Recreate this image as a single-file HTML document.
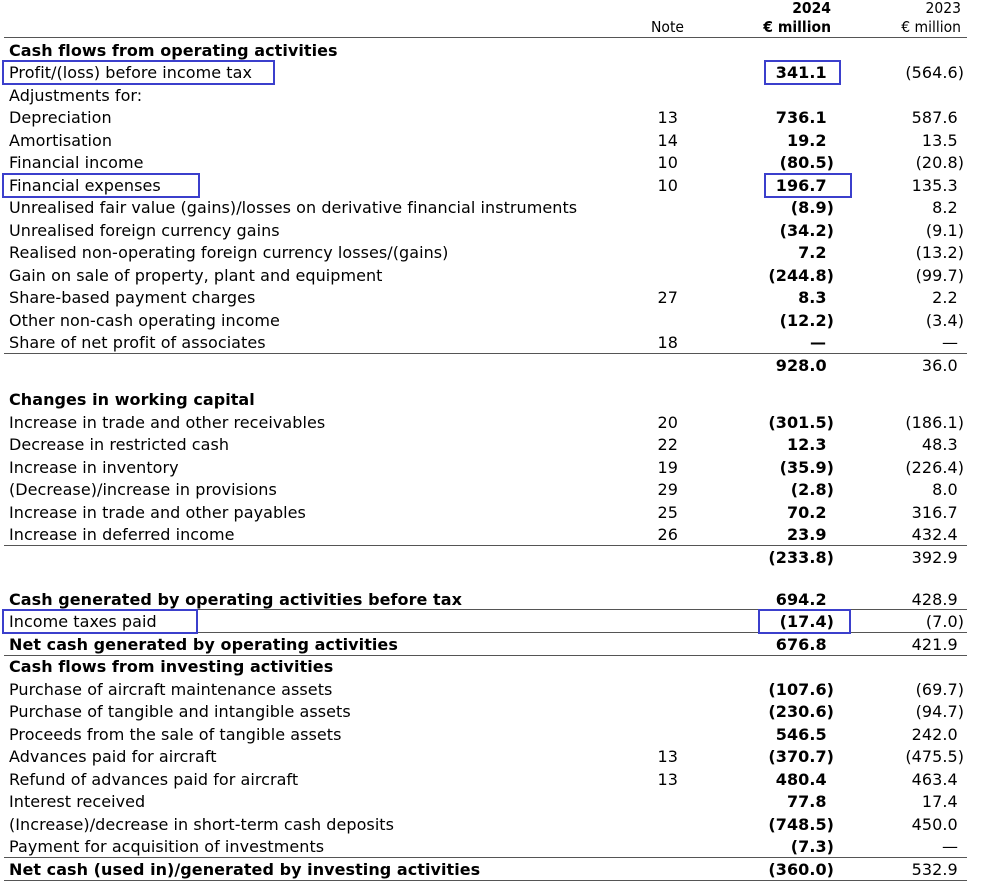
<!DOCTYPE html>
<html><head><meta charset="utf-8"><style>
body{margin:0;width:990px;height:881px;background:#fff;position:relative;overflow:hidden;font-family:"DejaVu Sans",Verdana,sans-serif;font-size:16px;letter-spacing:0.05px;color:#000}
.r{position:absolute;left:0;width:990px;height:22px;line-height:24px}
.l{position:absolute;left:9px;white-space:nowrap}
.n{position:absolute;right:312px}
.a{position:absolute;right:156px;font-weight:bold}
.b{position:absolute;right:26px}
.h{visibility:hidden}
.bd{font-weight:bold}
.line{position:absolute;left:4px;width:963px;height:0;border-top:1.5px solid #555}
.box{position:absolute;border:2px solid #3b3fcc;box-sizing:border-box}
.hd{position:absolute;font-family:"DejaVu Sans Condensed","DejaVu Sans",sans-serif;font-size:15.5px;letter-spacing:0;line-height:18px}
</style></head><body>
<div class="hd" style="right:159px;top:-1px;font-weight:bold">2024</div>
<div class="hd" style="right:29px;top:-1px">2023</div>
<div class="hd" style="right:306px;top:18px">Note</div>
<div class="hd" style="right:159px;top:18px;font-weight:bold">€ million</div>
<div class="hd" style="right:29px;top:18px">€ million</div>
<div class="line" style="top:37px"></div>

<div class="r" style="top:39px"><span class="l bd">Cash flows from operating activities</span></div>
<div class="r" style="top:61px"><span class="l">Profit/(loss) before income tax</span><span class="a">341.1<span class="h">)</span></span><span class="b">(564.6)</span></div>
<div class="r" style="top:84px"><span class="l">Adjustments for:</span></div>
<div class="r" style="top:106px"><span class="l">Depreciation</span><span class="n">13</span><span class="a">736.1<span class="h">)</span></span><span class="b">587.6<span class="h">)</span></span></div>
<div class="r" style="top:129px"><span class="l">Amortisation</span><span class="n">14</span><span class="a">19.2<span class="h">)</span></span><span class="b">13.5<span class="h">)</span></span></div>
<div class="r" style="top:151px"><span class="l">Financial income</span><span class="n">10</span><span class="a">(80.5)</span><span class="b">(20.8)</span></div>
<div class="r" style="top:174px"><span class="l">Financial expenses</span><span class="n">10</span><span class="a">196.7<span class="h">)</span></span><span class="b">135.3<span class="h">)</span></span></div>
<div class="r" style="top:196px"><span class="l">Unrealised fair value (gains)/losses on derivative financial instruments</span><span class="a">(8.9)</span><span class="b">8.2<span class="h">)</span></span></div>
<div class="r" style="top:219px"><span class="l">Unrealised foreign currency gains</span><span class="a">(34.2)</span><span class="b">(9.1)</span></div>
<div class="r" style="top:241px"><span class="l">Realised non-operating foreign currency losses/(gains)</span><span class="a">7.2<span class="h">)</span></span><span class="b">(13.2)</span></div>
<div class="r" style="top:264px"><span class="l">Gain on sale of property, plant and equipment</span><span class="a">(244.8)</span><span class="b">(99.7)</span></div>
<div class="r" style="top:286px"><span class="l">Share-based payment charges</span><span class="n">27</span><span class="a">8.3<span class="h">)</span></span><span class="b">2.2<span class="h">)</span></span></div>
<div class="r" style="top:309px"><span class="l">Other non-cash operating income</span><span class="a">(12.2)</span><span class="b">(3.4)</span></div>
<div class="r" style="top:331px"><span class="l">Share of net profit of associates</span><span class="n">18</span><span class="a" style="right:164px">—</span><span class="b" style="right:32px">—</span></div>
<div class="line" style="top:353px"></div>
<div class="r" style="top:354px"><span class="a">928.0<span class="h">)</span></span><span class="b">36.0<span class="h">)</span></span></div>

<div class="r" style="top:388px"><span class="l bd">Changes in working capital</span></div>
<div class="r" style="top:411px"><span class="l">Increase in trade and other receivables</span><span class="n">20</span><span class="a">(301.5)</span><span class="b">(186.1)</span></div>
<div class="r" style="top:433px"><span class="l">Decrease in restricted cash</span><span class="n">22</span><span class="a">12.3<span class="h">)</span></span><span class="b">48.3<span class="h">)</span></span></div>
<div class="r" style="top:456px"><span class="l">Increase in inventory</span><span class="n">19</span><span class="a">(35.9)</span><span class="b">(226.4)</span></div>
<div class="r" style="top:478px"><span class="l">(Decrease)/increase in provisions</span><span class="n">29</span><span class="a">(2.8)</span><span class="b">8.0<span class="h">)</span></span></div>
<div class="r" style="top:501px"><span class="l">Increase in trade and other payables</span><span class="n">25</span><span class="a">70.2<span class="h">)</span></span><span class="b">316.7<span class="h">)</span></span></div>
<div class="r" style="top:523px"><span class="l">Increase in deferred income</span><span class="n">26</span><span class="a">23.9<span class="h">)</span></span><span class="b">432.4<span class="h">)</span></span></div>
<div class="line" style="top:545px"></div>
<div class="r" style="top:546px"><span class="a">(233.8)</span><span class="b">392.9<span class="h">)</span></span></div>

<div class="r" style="top:588px"><span class="l bd">Cash generated by operating activities before tax</span><span class="a">694.2<span class="h">)</span></span><span class="b">428.9<span class="h">)</span></span></div>
<div class="line" style="top:609px"></div>
<div class="r" style="top:610px"><span class="l">Income taxes paid</span><span class="a">(17.4)</span><span class="b">(7.0)</span></div>
<div class="line" style="top:632px"></div>
<div class="r" style="top:633px"><span class="l bd">Net cash generated by operating activities</span><span class="a">676.8<span class="h">)</span></span><span class="b">421.9<span class="h">)</span></span></div>
<div class="line" style="top:655px"></div>
<div class="r" style="top:655px"><span class="l bd">Cash flows from investing activities</span></div>
<div class="r" style="top:678px"><span class="l">Purchase of aircraft maintenance assets</span><span class="a">(107.6)</span><span class="b">(69.7)</span></div>
<div class="r" style="top:700px"><span class="l">Purchase of tangible and intangible assets</span><span class="a">(230.6)</span><span class="b">(94.7)</span></div>
<div class="r" style="top:723px"><span class="l">Proceeds from the sale of tangible assets</span><span class="a">546.5<span class="h">)</span></span><span class="b">242.0<span class="h">)</span></span></div>
<div class="r" style="top:745px"><span class="l">Advances paid for aircraft</span><span class="n">13</span><span class="a">(370.7)</span><span class="b">(475.5)</span></div>
<div class="r" style="top:768px"><span class="l">Refund of advances paid for aircraft</span><span class="n">13</span><span class="a">480.4<span class="h">)</span></span><span class="b">463.4<span class="h">)</span></span></div>
<div class="r" style="top:790px"><span class="l">Interest received</span><span class="a">77.8<span class="h">)</span></span><span class="b">17.4<span class="h">)</span></span></div>
<div class="r" style="top:813px"><span class="l">(Increase)/decrease in short-term cash deposits</span><span class="a">(748.5)</span><span class="b">450.0<span class="h">)</span></span></div>
<div class="r" style="top:835px"><span class="l">Payment for acquisition of investments</span><span class="a">(7.3)</span><span class="b" style="right:32px">—</span></div>
<div class="line" style="top:857px"></div>
<div class="r" style="top:858px"><span class="l bd">Net cash (used in)/generated by investing activities</span><span class="a">(360.0)</span><span class="b">532.9<span class="h">)</span></span></div>
<div class="line" style="top:880px"></div>

<div class="box" style="left:2px;top:60px;width:273px;height:25px"></div>
<div class="box" style="left:764px;top:60px;width:77px;height:25px"></div>
<div class="box" style="left:2px;top:173px;width:198px;height:25px"></div>
<div class="box" style="left:764px;top:173px;width:88px;height:25px"></div>
<div class="box" style="left:2px;top:609px;width:196px;height:25px"></div>
<div class="box" style="left:758px;top:609px;width:93px;height:25px"></div>
</body></html>
